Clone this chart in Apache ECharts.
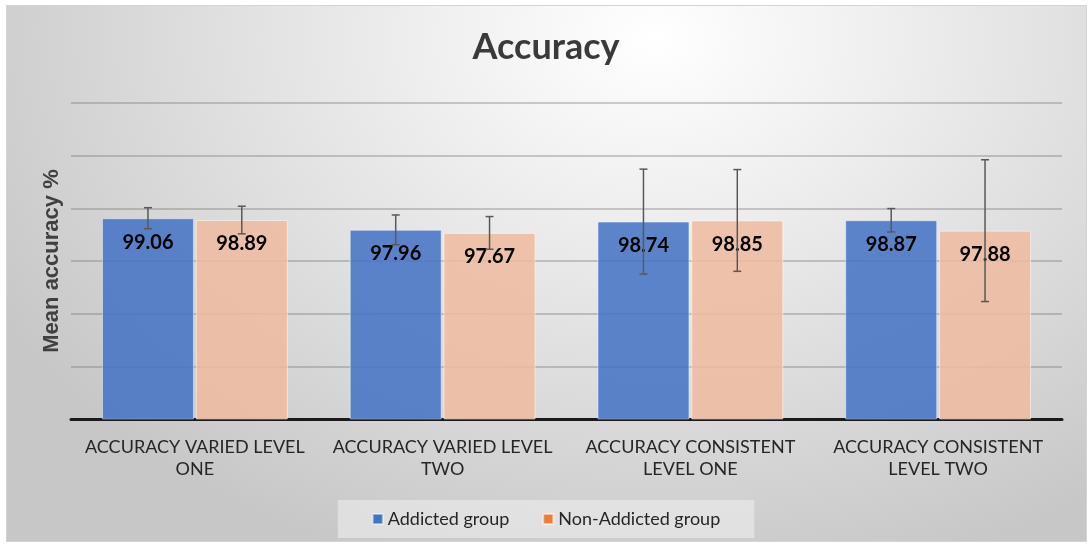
<!DOCTYPE html>
<html>
<head>
<meta charset="utf-8">
<script src="https://cdn.jsdelivr.net/npm/echarts@6/dist/echarts.min.js"></script>
<style>
  html, body { margin: 0; padding: 0; background: #fff; }
  #frame {
    position: absolute; left: 6px; top: 5px; width: 1079px; height: 535px;
    border: 1px solid #d4d4d4;
    background: radial-gradient(ellipse 70% 105% at 60% 6%, #ffffff 0%, #efefef 30%, #dddddd 62%, #c7c7c7 100%);
  }
  #chart { position: absolute; left: 0; top: 0; width: 1092px; height: 555px; }
</style>
</head>
<body>
<div id="frame"></div>
<div id="chart"></div>
<script>
// categories and values
const categories = [
  "ACCURACY VARIED LEVEL\nONE",
  "ACCURACY VARIED LEVEL\nTWO",
  "ACCURACY CONSISTENT\nLEVEL ONE",
  "ACCURACY CONSISTENT\nLEVEL TWO",
];
const addicted = [99.06, 97.96, 98.74, 98.87];
const nonAddicted = [98.89, 97.67, 98.85, 97.88];
// error bar half-lengths (estimated)
const addictedErr = [1.0, 1.41, 4.98, 1.11];
const nonAddictedErr = [1.31, 1.55, 4.83, 6.73];

const CAT_GAP = 0.25;
const BAR_GAP = 0.02;

var myChart = echarts.init(document.getElementById("chart"));

const errorBar = (seriesPos) => (params, api) => {
  const cat = api.value(0);
  const val = api.value(1);
  const err = api.value(2);
  const band = api.size([1, 0])[0];
  const used = band * (1 - CAT_GAP);
  const barW = used / (2 + BAR_GAP);
  const center = api.coord([cat, val])[0];
  const x = center - used / 2 + seriesPos * barW * (1 + BAR_GAP) + barW / 2;
  const top = api.coord([cat, val + err])[1];
  const bottom = api.coord([cat, val - err])[1];
  const style = { stroke: "#595959", lineWidth: 1.5 };
  return {
    type: "group",
    children: [
      { type: "line", shape: { x1: x, y1: top, x2: x, y2: bottom }, style },
      { type: "line", shape: { x1: x - 4, y1: top, x2: x + 4, y2: top }, style },
      { type: "line", shape: { x1: x - 4, y1: bottom, x2: x + 4, y2: bottom }, style },
    ],
  };
};

const labelStyle = {
  show: true,
  position: "insideTop",
  distance: 14,
  fontFamily: "Lato",
  fontWeight: "bold",
  fontSize: 20,
  color: "#000",
};

var option = {
  title: {
    text: "Accuracy",
    left: "center",
    top: 24,
    textStyle: { fontFamily: "Lato", fontWeight: "bold", fontSize: 36, color: "#3a3a3a" },
  },
  legend: {
    bottom: 17,
    left: "center",
    icon: "rect",
    itemWidth: 10,
    itemHeight: 10,
    itemGap: 33,
    padding: [10, 34, 10, 34],
    backgroundColor: "rgba(240,240,240,0.55)",
    textStyle: { fontFamily: "Lato", fontSize: 18, color: "#262626" },
    data: [
      { name: "Addicted group", itemStyle: { color: "#4472C4" } },
      { name: "Non-Addicted group", itemStyle: { color: "#ED7D31" } },
    ],
  },
  grid: { left: 71, right: 30, top: 103, bottom: 136 },
  xAxis: {
    type: "category",
    data: categories,
    axisLine: { lineStyle: { color: "#1a1a1a", width: 3 } },
    axisTick: { show: false },
    axisLabel: {
      interval: 0,
      margin: 17,
      lineHeight: 22,
      fontFamily: "Lato",
      fontSize: 18,
      color: "#262626",
    },
  },
  yAxis: {
    type: "value",
    min: 80,
    max: 110,
    interval: 5,
    name: "Mean accuracy %",
    nameLocation: "middle",
    nameGap: 8,
    nameRotate: 90,
    nameTextStyle: { fontFamily: "Liberation Sans", fontWeight: "bold", fontSize: 22, color: "#404040" },
    axisLabel: { show: false },
    axisLine: { show: false },
    axisTick: { show: false },
    splitLine: { lineStyle: { color: "rgba(110,110,110,0.45)", width: 1.5 } },
  },
  series: [
    {
      name: "Addicted group",
      type: "bar",
      data: addicted,
      barGap: BAR_GAP * 100 + "%",
      barCategoryGap: CAT_GAP * 100 + "%",
      itemStyle: { color: "rgba(68,114,196,0.86)", borderColor: "rgba(255,255,255,0.45)", borderWidth: 1 },
      label: labelStyle,
    },
    {
      name: "Non-Addicted group",
      type: "bar",
      data: nonAddicted,
      itemStyle: { color: "rgba(238,186,160,0.86)", borderColor: "rgba(255,255,255,0.5)", borderWidth: 1 },
      label: labelStyle,
    },
    {
      type: "custom",
      renderItem: errorBar(0),
      data: addicted.map((v, i) => [i, v, addictedErr[i]]),
      z: 5,
      silent: true,
    },
    {
      type: "custom",
      renderItem: errorBar(1),
      data: nonAddicted.map((v, i) => [i, v, nonAddictedErr[i]]),
      z: 5,
      silent: true,
    },
  ],
};

myChart.setOption(option);
</script>
</body>
</html>
